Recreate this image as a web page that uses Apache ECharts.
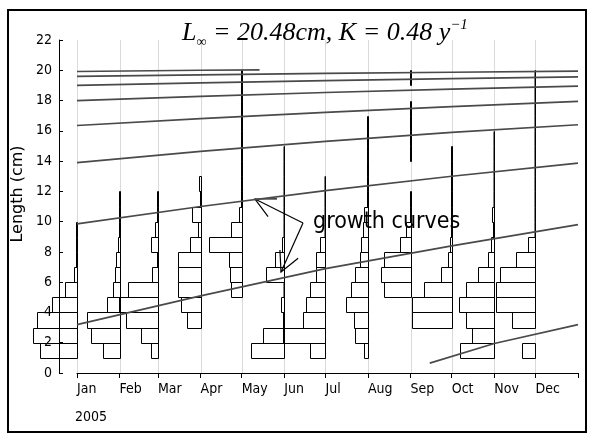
<!DOCTYPE html>
<html>
<head>
<meta charset="utf-8">
<script src="https://cdn.jsdelivr.net/npm/echarts@6/dist/echarts.min.js"></script>
<style>
  html, body { margin: 0; background: #fff; }
  #chart { width: 594px; height: 438px; }
</style>
</head>
<body>
<div id="chart"></div>
<script>
  // months of 2005, x axis runs in days from 1 Jan
  const months = ["Jan", "Feb", "Mar", "Apr", "May", "Jun", "Jul", "Aug", "Sep", "Oct", "Nov", "Dec"];
  const monthDays = [0, 31, 59, 90, 120, 151, 181, 212, 243, 273, 304, 334];
  const yearEnd = 365;

  // length-frequency per monthly sample, 1 cm classes starting at 0 cm (relative units)
  const freqJan = [0, 37, 44, 40, 25, 12, 3, 1, 1, 1];
  const freqFeb = [0, 17, 29, 33, 13, 7, 5, 4, 2, 0.5, 0.5, 0.5];
  const freqMar = [0, 7, 17, 32, 39, 30, 6, 0.5, 7, 3, 0.5, 0.5];
  const freqApr = [0, 0, 0, 14, 20, 23, 23, 23, 11, 3, 9, 1, 1.5];
  const freqMay = [0, 0, 0, 0, 0, 10.5, 12, 13, 33, 10.5, 2.3, 0.5, 0.5, 0.5, 0.5, 0.5, 0.5, 0.5, 0.5, 0.5];
  const freqJun = [0, 33, 21, 1, 3, 0.5, 18, 9.5, 2.5, 0.5, 0.5, 0.5, 0.5, 0.5, 0.5];
  const freqJul = [0, 15, 42, 22, 19, 15, 9, 9, 5, 0.5, 0.5, 0.5, 0.5];
  const freqAug = [0, 3.5, 13, 14, 21.5, 17, 13, 8, 6.5, 5, 3.5, 0.5, 0.5, 0.5, 0.5, 0.5, 0.5];
  const freqSep = [0, 0, 0, 0, 0, 27, 30, 27, 11, 5, 0.5, 0.5, 0, 0, 0.5, 0.5, 0.5, 0.5, 0, 0.5];
  const freqOct = [0, 0, 0, 40, 40, 27.5, 11, 3.5, 2, 0.5, 0.5, 0.5, 0.5, 0.5, 0.5];
  const freqNov = [0, 34, 22, 28, 35, 28, 16, 6, 3, 1, 2, 0.5, 0.5, 0.5, 0.5, 0.5];
  const freqDec = [0, 13, 0, 23, 39, 39, 35, 19, 7, 0.5, 0.5, 0.5, 0.5, 0.5, 0.5, 0.5, 0.5, 0.5, 0.5, 0.5];
  const samples = [freqJan, freqFeb, freqMar, freqApr, freqMay, freqJun,
                   freqJul, freqAug, freqSep, freqOct, freqNov, freqDec];

  // growth curves (cm) read at these days
  const curveDays = [0, 90, 181, 273, 365];
  const cohort1 = [3.2, 5.1, 6.9, 8.4, 9.8];
  const cohort2 = [9.85, 11.0, 12.05, 13.0, 13.87];
  const cohort3 = [13.9, 14.64, 15.3, 15.9, 16.4];
  const cohort4 = [16.35, 16.8, 17.22, 17.6, 17.95];
  const cohort5 = [18.0, 18.28, 18.53, 18.75, 18.95];
  const cohort6 = [19.0, 19.17, 19.31, 19.45, 19.56];
  const cohort7 = [19.6, 19.7, 19.79, 19.87, 19.94];
  const oldDays = [0, 90, 133];
  const cohortOld = [19.92, 20.0, 20.02];
  const recruitDays = [257, 304, 365];
  const recruit = [0.65, 1.95, 3.2];

  const narrow = "'Liberation Sans Narrow', 'Arial Narrow', 'DejaVu Sans Condensed', sans-serif";
  const serif = "'Liberation Serif', 'Times New Roman', serif";
  const PX_PER_FREQ = 1;

  const chart = echarts.init(document.getElementById("chart"));

  const barData = [];
  samples.forEach((freqs, i) => {
    freqs.forEach((f, bin) => {
      if (f > 0) barData.push([monthDays[i], bin, f]);
    });
  });

  function zip(xs, ys) {
    return xs.map((x, i) => [x, ys[i]]);
  }

  function renderBar(params, api) {
    const day = api.value(0);
    const lo = api.value(1);
    const f = api.value(2);
    const bottom = api.coord([day, lo]);
    const top = api.coord([day, lo + 1]);
    const xr = Math.round(bottom[0]) + 0.5;
    const xl = Math.min(Math.round(bottom[0] - f * PX_PER_FREQ) + 0.5, xr - 0.5);
    const yb = Math.round(bottom[1]) + 0.5;
    const yt = Math.round(top[1]) + 0.5;
    return {
      type: "rect",
      shape: { x: xl, y: yt, width: xr - xl, height: yb - yt },
      style: { fill: "none", stroke: "#000", lineWidth: 1 }
    };
  }

  function renderGridLine(params, api) {
    const a = api.coord([api.value(0), 0]);
    const b = api.coord([api.value(0), 22]);
    const x = Math.round(a[0]) + 0.5;
    return {
      type: "line",
      shape: { x1: x, y1: a[1], x2: x, y2: b[1] },
      style: { stroke: "#dadada", lineWidth: 1 }
    };
  }

  const curveStyle = { color: "#4a4a4a", width: 1.7 };
  function curve(data) {
    return {
      type: "line", data: data, showSymbol: false, silent: true, z: 4,
      lineStyle: curveStyle, itemStyle: { color: "#4a4a4a" }
    };
  }

  chart.setOption({
    animation: false,
    grid: { left: 77, right: 16, top: 40, bottom: 65 },
    title: {
      text: "{i|L}{s|∞}{i| = 20.48cm, K = 0.48 y}{p|−1}",
      left: 177, top: 13,
      textStyle: {
        fontWeight: "normal",
        rich: {
          i: { fontFamily: serif, fontStyle: "italic", fontWeight: "normal", fontSize: 26, lineHeight: 31, color: "#000", verticalAlign: "middle" },
          s: { fontFamily: serif, fontWeight: "normal", fontSize: 14, lineHeight: 12, color: "#000", verticalAlign: "bottom" },
          p: { fontFamily: serif, fontStyle: "italic", fontWeight: "normal", fontSize: 15, lineHeight: 14, color: "#000", verticalAlign: "top" }
        }
      }
    },
    xAxis: {
      type: "value", min: 0, max: yearEnd,
      axisLine: { onZero: false, lineStyle: { color: "#000", width: 1 } },
      axisTick: { customValues: monthDays.concat([yearEnd]), length: 5, lineStyle: { color: "#000" } },
      axisLabel: {
        customValues: monthDays,
        formatter: (v) => months[monthDays.indexOf(v)] || "",
        align: "left", margin: 9, color: "#000",
        fontFamily: narrow, fontSize: 14
      },
      splitLine: { show: false }
    },
    yAxis: {
      type: "value", min: 0, max: 22, interval: 2, offset: 18,
      axisLine: { show: true, onZero: false, lineStyle: { color: "#000", width: 1 } },
      axisTick: { show: true, inside: true, length: 4, lineStyle: { color: "#000" } },
      axisLabel: { margin: 7, color: "#000", fontFamily: narrow, fontSize: 14 },
      splitLine: { show: false }
    },
    series: [
      { type: "custom", data: monthDays, renderItem: renderGridLine, silent: true, z: 1, clip: false },
      { type: "custom", data: barData, renderItem: renderBar, silent: true, z: 3, clip: false },
      curve(zip(curveDays, cohort1)),
      curve(zip(curveDays, cohort2)),
      curve(zip(curveDays, cohort3)),
      curve(zip(curveDays, cohort4)),
      curve(zip(curveDays, cohort5)),
      curve(zip(curveDays, cohort6)),
      curve(zip(curveDays, cohort7)),
      curve(zip(oldDays, cohortOld)),
      curve(zip(recruitDays, recruit))
    ]
  });

  // annotation arrows
  function arrow(from, tip) {
    const ang = Math.atan2(from[1] - tip[1], from[0] - tip[0]);
    const len = 22, half = 27 * Math.PI / 180;
    const h1 = [tip[0] + len * Math.cos(ang + half), tip[1] + len * Math.sin(ang + half)];
    const h2 = [tip[0] + len * Math.cos(ang - half), tip[1] + len * Math.sin(ang - half)];
    return [
      { type: "polyline", shape: { points: [from, tip] }, style: { stroke: "#000", lineWidth: 1.2, fill: null } },
      { type: "polyline", shape: { points: [h1, tip, h2] }, style: { stroke: "#000", lineWidth: 1.2, fill: null } }
    ];
  }
  const vertex = [303, 223];

  chart.setOption({
    graphic: [
      { type: "rect", shape: { x: 8, y: 10, width: 578, height: 422 }, style: { fill: "none", stroke: "#000", lineWidth: 2 }, silent: true },
      { type: "text", x: 18, y: 194, rotation: Math.PI / 2,
        style: { text: "Length (cm)", fontFamily: "'DejaVu Sans', sans-serif", fontSize: 16, fill: "#000", align: "center", verticalAlign: "middle" } },
      { type: "text", x: 75, y: 410,
        style: { text: "2005", fontFamily: narrow, fontSize: 14, fill: "#000" } },
      { type: "text", x: 313, y: 211, z: 10,
        style: { text: "growth curves", fontFamily: narrow, fontSize: 23, fill: "#000" } }
    ].concat(arrow(vertex, [255, 199]), arrow(vertex, [281, 272]))
  });
</script>
</body>
</html>
